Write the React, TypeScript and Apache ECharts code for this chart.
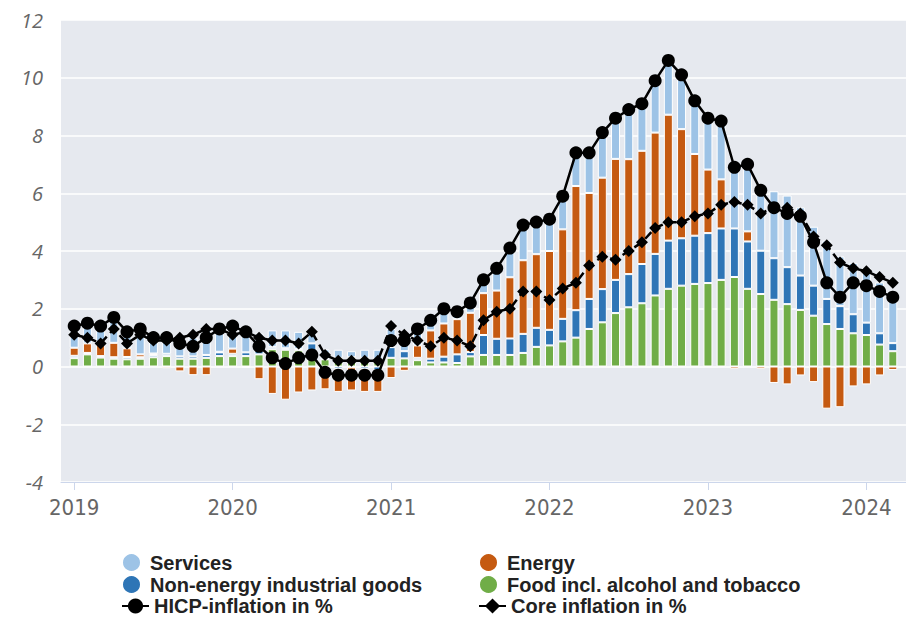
import React, { useEffect, useRef } from "react";
import * as echarts from "echarts";

const months = [
  "2019-01","2019-02","2019-03","2019-04","2019-05","2019-06","2019-07","2019-08","2019-09","2019-10","2019-11","2019-12",
  "2020-01","2020-02","2020-03","2020-04","2020-05","2020-06","2020-07","2020-08","2020-09","2020-10","2020-11","2020-12",
  "2021-01","2021-02","2021-03","2021-04","2021-05","2021-06","2021-07","2021-08","2021-09","2021-10","2021-11","2021-12",
  "2022-01","2022-02","2022-03","2022-04","2022-05","2022-06","2022-07","2022-08","2022-09","2022-10","2022-11","2022-12",
  "2023-01","2023-02","2023-03","2023-04","2023-05","2023-06","2023-07","2023-08","2023-09","2023-10","2023-11","2023-12",
  "2024-01","2024-02","2024-03",
];

const food = [
  0.29,0.42,0.31,0.27,0.25,0.27,0.32,0.36,0.27,0.27,0.30,0.36,
  0.36,0.36,0.42,0.60,0.58,0.56,0.38,0.25,0.30,0.32,0.30,0.25,
  0.30,0.28,0.22,0.14,0.14,0.12,0.35,0.40,0.40,0.40,0.47,0.68,
  0.73,0.87,1.00,1.30,1.53,1.85,2.05,2.19,2.46,2.69,2.80,2.86,
  2.89,3.00,3.10,2.69,2.51,2.31,2.16,1.96,1.76,1.47,1.30,1.15,
  1.09,0.76,0.53,
];

const neig = [
  0.08,0.05,0.05,0.05,0.08,0.05,0.08,0.08,0.08,0.08,0.10,0.13,
  0.08,0.13,0.13,0.08,0.05,0.05,0.42,-0.03,-0.08,-0.03,-0.08,-0.13,
  0.37,0.25,0.08,0.13,0.20,0.30,0.15,0.69,0.56,0.57,0.66,0.66,
  0.54,0.78,0.95,1.04,1.15,1.15,1.15,1.36,1.44,1.67,1.64,1.67,
  1.73,1.78,1.68,1.64,1.50,1.44,1.28,1.19,1.04,0.87,0.79,0.66,
  0.43,0.39,0.28,
];

const energy = [
  0.28,0.33,0.44,0.50,0.30,0.10,0.05,-0.06,-0.17,-0.30,-0.30,0.02,
  0.18,-0.03,-0.44,-0.95,-1.15,-0.90,-0.83,-0.76,-0.80,-0.80,-0.80,-0.75,
  -0.40,-0.15,0.43,0.98,1.15,1.22,1.36,1.45,1.67,2.12,2.55,2.55,
  2.73,3.10,4.30,3.67,3.86,4.19,3.98,3.92,4.20,4.36,3.78,2.83,
  2.20,1.70,-0.08,0.35,-0.08,-0.57,-0.62,-0.31,-0.54,-1.46,-1.41,-0.69,
  -0.62,-0.31,-0.12,
];

const services = [
  0.75,0.70,0.60,0.88,0.57,0.88,0.55,0.62,0.62,0.65,0.90,0.79,
  0.78,0.74,0.59,0.57,0.62,0.59,0.43,0.34,0.28,0.21,0.28,0.33,
  0.63,0.52,0.57,0.35,0.51,0.26,0.34,0.46,0.77,1.01,1.22,1.11,
  1.00,1.10,1.15,1.39,1.56,1.41,1.72,1.63,1.80,1.88,1.88,1.84,
  1.78,2.02,2.20,2.32,2.17,2.32,2.48,2.36,2.04,2.02,1.72,1.78,
  1.90,1.76,1.71,
];

const hicp = [
  1.4,1.5,1.4,1.7,1.2,1.3,1.0,1.0,0.8,0.7,1.0,1.3,
  1.4,1.2,0.7,0.3,0.1,0.3,0.4,-0.2,-0.3,-0.3,-0.3,-0.3,
  0.9,0.9,1.3,1.6,2.0,1.9,2.2,3.0,3.4,4.1,4.9,5.0,
  5.1,5.9,7.4,7.4,8.1,8.6,8.9,9.1,9.9,10.6,10.1,9.2,
  8.6,8.5,6.9,7.0,6.1,5.5,5.3,5.2,4.3,2.9,2.4,2.9,
  2.8,2.6,2.4,
];

const core = [
  1.1,1.0,0.8,1.3,0.8,1.1,0.9,0.9,1.0,1.1,1.3,1.3,
  1.1,1.2,1.0,0.9,0.9,0.8,1.2,0.4,0.2,0.2,0.2,0.2,
  1.4,1.1,0.9,0.7,1.0,0.9,0.7,1.6,1.9,2.0,2.6,2.6,
  2.3,2.7,2.9,3.5,3.8,3.7,4.0,4.3,4.8,5.0,5.0,5.2,
  5.3,5.6,5.7,5.6,5.3,5.5,5.5,5.3,4.5,4.2,3.6,3.4,
  3.3,3.1,2.9,
];

const NAMES = {
  services: "Services",
  energy: "Energy",
  neig: "Non-energy industrial goods",
  food: "Food incl. alcohol and tobacco",
  hicp: "HICP-inflation in %",
  core: "Core inflation in %",
};

const COLORS = {
  services: "#9dc3e6",
  neig: "#2e75b6",
  energy: "#c55a11",
  food: "#70ad47",
};

export default function App() {
  const ref = useRef<HTMLDivElement>(null);

  useEffect(() => {
    if (!ref.current) return;
    const chart = echarts.init(ref.current, null, { renderer: "svg" });

    // one empty slot before Jan 2019 and one after Mar 2024 so the axis runs past the data
    const cats = ["", ...months, ""];
    const pad = (arr: number[]) => ["-", ...arr, "-"];
    const isJanuary = (idx: number) => {
      const m = cats[idx];
      return typeof m === "string" && m.endsWith("-01");
    };

    const barSeries = (key: "food" | "neig" | "energy" | "services", arr: number[]) => ({
      name: NAMES[key],
      type: "bar",
      stack: "contrib",
      barWidth: 9,
      data: pad(arr),
      itemStyle: { color: COLORS[key], borderColor: "#ffffff", borderWidth: 1 },
      z: 2,
    });

    const legendText = {
      fontFamily: "'Liberation Sans', Arial, sans-serif",
      fontWeight: "bold" as const,
      fontSize: 20,
      color: "#222",
    };

    const legendAt = (item: any, left: number, top: number) => ({
      orient: "horizontal",
      left,
      top,
      itemWidth: 27,
      itemHeight: 19,
      padding: 0,
      textStyle: legendText,
      data: [item],
    });

    chart.setOption({
      animation: false,
      backgroundColor: "#ffffff",
      grid: {
        left: 61,
        top: 20,
        right: -3,
        height: 462,
        show: true,
        backgroundColor: "#e6e9ef",
        borderWidth: 0,
      },
      xAxis: {
        type: "category",
        data: cats,
        boundaryGap: false,
        axisLine: { show: true, onZero: false, lineStyle: { color: "#ccd6eb", width: 1 } },
        axisTick: {
          show: true,
          length: 8,
          interval: (idx: number) => isJanuary(idx),
          lineStyle: { color: "#ccd6eb" },
        },
        axisLabel: {
          interval: (idx: number) => isJanuary(idx),
          formatter: (v: string) => v.slice(0, 4),
          fontFamily: "'Liberation Sans Narrow', 'DejaVu Sans Condensed', 'Open Sans', sans-serif",
          fontSize: 22,
          color: "#666666",
          margin: 14,
        },
        splitLine: { show: false },
      },
      yAxis: {
        type: "value",
        min: -4,
        max: 12,
        interval: 2,
        axisLine: { show: false, onZero: false },
        axisTick: { show: false },
        axisLabel: {
          fontFamily: "'Open Sans', sans-serif",
          fontStyle: "italic",
          fontSize: 20,
          color: "#666666",
          margin: 18,
        },
        splitLine: { show: true, lineStyle: { color: "#ffffff", width: 1.5 } },
      },
      legend: [
        legendAt({ name: NAMES.services, icon: "circle" }, 121, 552),
        legendAt({ name: NAMES.neig, icon: "circle" }, 121, 574),
        legendAt({ name: NAMES.hicp }, 121, 596),
        legendAt({ name: NAMES.energy, icon: "circle" }, 478, 552),
        legendAt({ name: NAMES.food, icon: "circle" }, 478, 574),
        legendAt({ name: NAMES.core, lineStyle: { type: "solid" } }, 478, 596),
      ],
      series: [
        barSeries("food", food),
        barSeries("neig", neig),
        barSeries("energy", energy),
        barSeries("services", services),
        {
          name: NAMES.core,
          type: "line",
          data: pad(core),
          symbol: "diamond",
          symbolSize: 12,
          showAllSymbol: true,
          itemStyle: { color: "#000000" },
          lineStyle: { color: "#000000", width: 2.5, type: [9, 5] },
          z: 4,
        },
        {
          name: NAMES.hicp,
          type: "line",
          data: pad(hicp),
          symbol: "circle",
          symbolSize: 13,
          showAllSymbol: true,
          itemStyle: { color: "#000000" },
          lineStyle: { color: "#000000", width: 2.5 },
          z: 5,
        },
      ],
    });

    return () => chart.dispose();
  }, []);

  return (
    <div
      ref={ref}
      style={{ position: "absolute", left: 0, top: 0, width: 906, height: 617 }}
    />
  );
}
